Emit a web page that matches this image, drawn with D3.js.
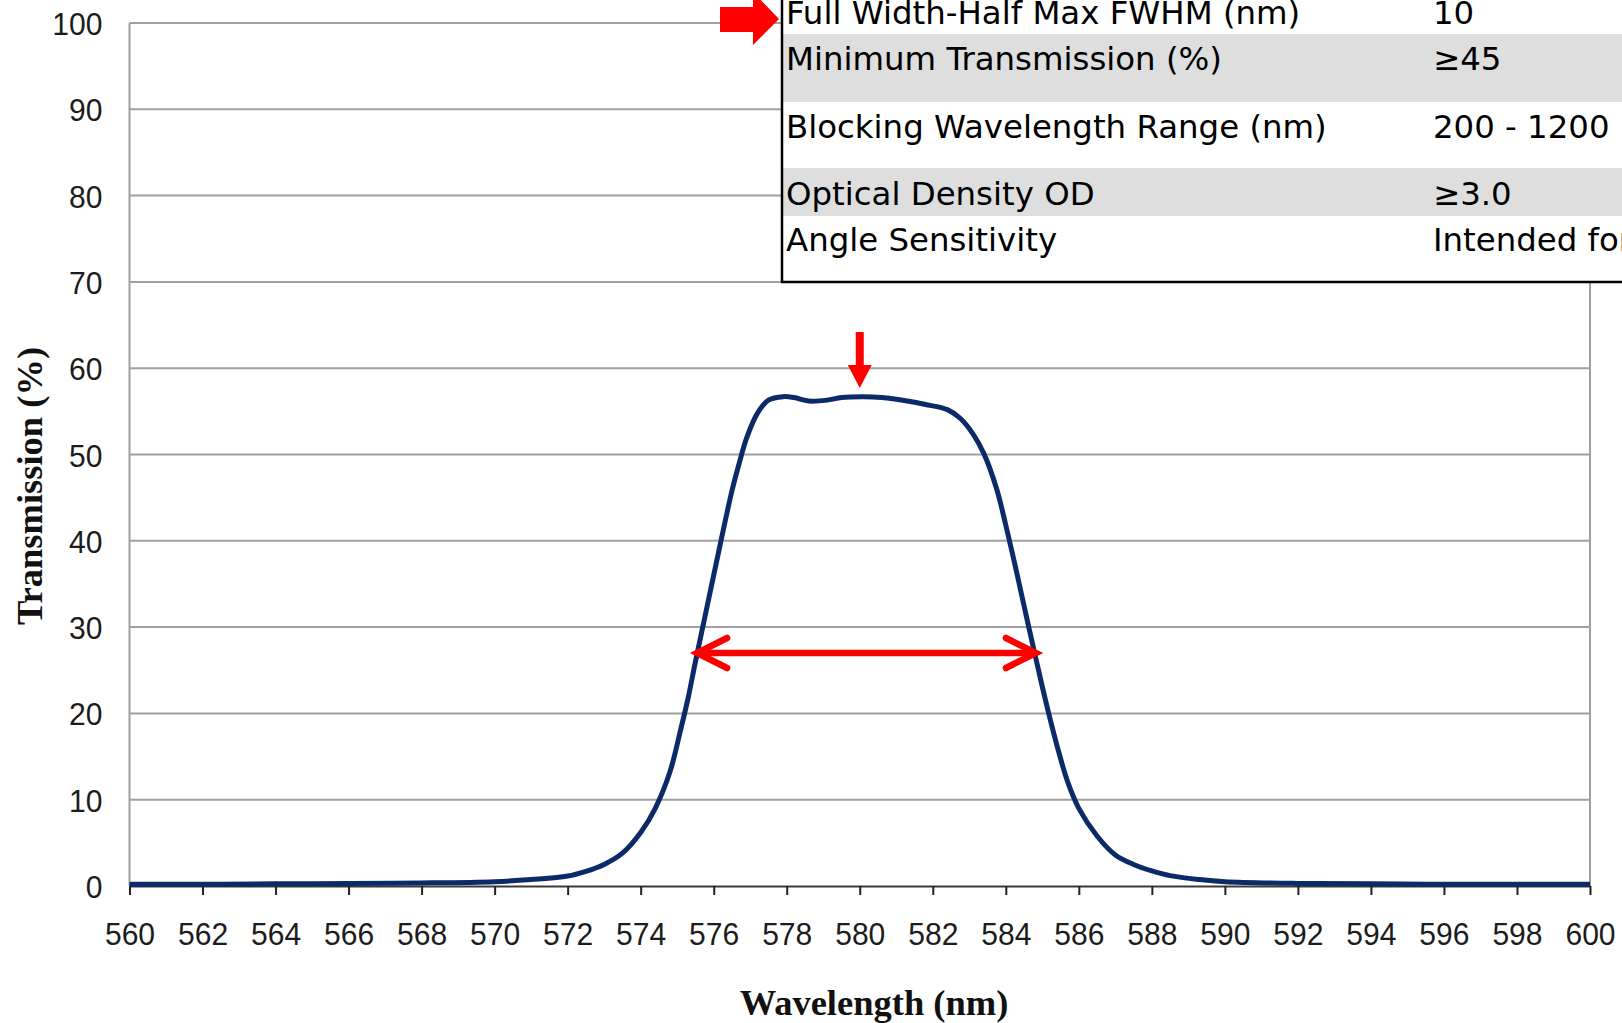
<!DOCTYPE html>
<html>
<head>
<meta charset="utf-8">
<script src="https://cdn.jsdelivr.net/npm/d3@7"></script>
<style>
  body { margin: 0; background: #fff; overflow: hidden; }
  svg { display: block; }
</style>
</head>
<body>
<svg id="chart" width="1622" height="1023"></svg>
<script>
"use strict";
var wavelengths = [560, 562, 564, 566, 568, 570, 571, 572, 572.5, 573, 573.5, 574, 574.4, 574.8, 575.1, 575.3,
    575.5, 575.8, 576.2, 576.5, 576.7, 576.9, 577.2, 577.5, 577.9, 578.2, 578.6, 579.1, 579.5, 580.1, 580.6,
    581.3, 581.8, 582.4, 582.75, 583.1, 583.4, 583.75, 584.0, 584.3, 584.55, 584.8, 585.1, 585.4, 585.7,
    586.0, 586.5, 587.0, 587.5, 588.0, 588.5, 589.3, 590, 592, 594, 596, 598, 600];
var transmission = [0.2, 0.2, 0.25, 0.3, 0.35, 0.5, 0.75, 1.15, 1.7, 2.5, 3.8, 6.2, 9.0, 13.2, 18.2, 21.8,
    26.0, 32.0, 40.0, 45.8, 49.0, 51.9, 54.8, 56.3, 56.7, 56.6, 56.2, 56.3, 56.6, 56.7, 56.6,
    56.2, 55.8, 55.2, 54.2, 52.4, 50.1, 46.0, 41.8, 36.3, 31.5, 26.8, 21.3, 16.3, 12.0,
    9.0, 5.8, 3.6, 2.5, 1.75, 1.2, 0.75, 0.5, 0.3, 0.25, 0.2, 0.2, 0.2];
var xTicks = [560, 562, 564, 566, 568, 570, 572, 574, 576, 578, 580, 582, 584, 586, 588, 590, 592, 594, 596, 598, 600];
var yTicks = [0, 10, 20, 30, 40, 50, 60, 70, 80, 90, 100];
var specLabels = ['Full Width-Half Max FWHM (nm)', 'Minimum Transmission (%)', 'Blocking Wavelength Range (nm)',
    'Optical Density OD', 'Angle Sensitivity'];
var specValues = ['10', '\u226545', '200 - 1200', '\u22653.0', 'Intended for'];
// annotations (data units)
var peakWl = 580;
var peakTip = 57.7;
var fwhmFrom = 575.49;
var fwhmTo = 584.88;
var fwhmLevel = 27;

var W = 1622, H = 1023;
var plotL = 129.5, plotR = 1590, plotT = 23, plotB = 886;
var svg = d3.select('#chart');
var x = d3.scaleLinear().domain([560, 600]).range([plotL, plotR]);
var y = d3.scaleLinear().domain([0, 100]).range([plotB, plotT]);
var grid = '#a0a0a0';
var red = '#ff0000';

// gridlines + frame
svg.append('g').selectAll('line')
    .data(yTicks.filter(function (d) { return d > 0; }))
    .enter().append('line')
    .attr('x1', plotL).attr('x2', plotR)
    .attr('y1', function (d) { return y(d); })
    .attr('y2', function (d) { return y(d); })
    .attr('stroke', grid)
    .attr('stroke-width', 2);
svg.append('line')
    .attr('x1', plotL).attr('x2', plotL)
    .attr('y1', plotT).attr('y2', plotB)
    .attr('stroke', grid).attr('stroke-width', 2);
svg.append('line')
    .attr('x1', plotR).attr('x2', plotR)
    .attr('y1', plotT).attr('y2', plotB)
    .attr('stroke', grid).attr('stroke-width', 2);

// x axis
var xAxis = svg.append('g')
    .attr('transform', 'translate(0,' + plotB + ')')
    .call(d3.axisBottom(x).tickValues(xTicks).tickSize(9).tickSizeOuter(0).tickFormat(d3.format('d')));
xAxis.select('.domain').attr('stroke', '#3a3a3a').attr('stroke-width', 2);
xAxis.selectAll('.tick line').attr('stroke', '#222').attr('stroke-width', 2);
xAxis.selectAll('.tick text')
    .attr('y', 59).attr('dy', 0)
    .attr('transform', 'scale(0.94,1)')
    .attr('fill', '#1c1c1c')
    .style('font-family', '"Liberation Sans", Arial, sans-serif')
    .style('font-size', '32px');

// y axis labels
var yAxis = svg.append('g')
    .attr('transform', 'translate(' + plotL + ',0)')
    .call(d3.axisLeft(y).tickValues(yTicks).tickSize(0).tickPadding(0));
yAxis.select('.domain').remove();
yAxis.selectAll('.tick text')
    .attr('x', -27 / 0.94).attr('dy', 0).attr('y', 11.5)
    .attr('transform', 'scale(0.94,1)')
    .attr('fill', '#1c1c1c')
    .style('font-family', '"Liberation Sans", Arial, sans-serif')
    .style('font-size', '32px');

// axis titles
svg.append('text')
    .attr('x', 874).attr('y', 1015)
    .attr('text-anchor', 'middle')
    .style('font-family', '"Liberation Serif", "Times New Roman", serif')
    .style('font-weight', 'bold')
    .style('font-size', '36.5px')
    .attr('fill', '#111')
    .text('Wavelength (nm)');
svg.append('text')
    .attr('transform', 'translate(42,486) rotate(-90)')
    .attr('text-anchor', 'middle')
    .style('font-family', '"Liberation Serif", "Times New Roman", serif')
    .style('font-weight', 'bold')
    .style('font-size', '36.5px')
    .attr('fill', '#111')
    .text('Transmission (%)');

// spectrum
var pts = wavelengths.map(function (w, i) { return [w, transmission[i]]; });
var line = d3.line()
    .x(function (d) { return x(d[0]); })
    .y(function (d) { return y(d[1]); })
    .curve(d3.curveCatmullRom.alpha(0.5));
svg.append('path')
    .attr('d', line(pts))
    .attr('fill', 'none')
    .attr('stroke', '#0c2a68')
    .attr('stroke-width', 5)
    .attr('stroke-linejoin', 'round');

// peak marker arrow
var px = x(peakWl), ptip = y(peakTip);
svg.append('path')
    .attr('d', 'M' + (px - 4) + ',' + (ptip - 56) + 'H' + (px + 4) + 'V' + (ptip - 23) + 'H' + (px + 12) +
        'L' + px + ',' + ptip + 'L' + (px - 12) + ',' + (ptip - 23) + 'H' + (px - 4) + 'Z')
    .attr('fill', red);

// fwhm double arrow
var fy = y(fwhmLevel), fx1 = x(fwhmFrom), fx2 = x(fwhmTo);
var arrows = svg.append('g')
    .attr('fill', 'none')
    .attr('stroke', red)
    .attr('stroke-width', 6.5)
    .attr('stroke-linecap', 'round')
    .attr('stroke-linejoin', 'miter');
arrows.append('line')
    .attr('x1', fx1 + 3).attr('x2', fx2 - 3)
    .attr('y1', fy).attr('y2', fy);
arrows.append('polyline')
    .attr('points', [[fx1 + 32, fy - 15], [fx1 + 2, fy], [fx1 + 32, fy + 15]].join(' '));
arrows.append('polyline')
    .attr('points', [[fx2 - 32, fy - 15], [fx2 - 2, fy], [fx2 - 32, fy + 15]].join(' '));

// spec table, cut off at the top right
var rowTops = [-20, 34, 102, 168, 216];
var rowBottoms = [34, 102, 168, 216, 282];
var baselines = [24, 70, 138, 205, 251];
var tbl = svg.append('g');
tbl.selectAll('rect')
    .data(specLabels)
    .enter().append('rect')
    .attr('x', 782).attr('width', W - 782)
    .attr('y', function (d, i) { return rowTops[i]; })
    .attr('height', function (d, i) { return rowBottoms[i] - rowTops[i]; })
    .attr('fill', function (d, i) { return i % 2 ? '#dedede' : '#fff'; });
tbl.selectAll('text.lbl')
    .data(specLabels)
    .enter().append('text')
    .attr('class', 'lbl')
    .attr('x', 786)
    .attr('y', function (d, i) { return baselines[i]; })
    .style('font-family', '"DejaVu Sans", Verdana, sans-serif')
    .style('font-size', '32.4px')
    .attr('fill', '#000')
    .text(function (d) { return d; });
tbl.selectAll('text.val')
    .data(specValues)
    .enter().append('text')
    .attr('class', 'val')
    .attr('x', 1433)
    .attr('y', function (d, i) { return baselines[i]; })
    .style('font-family', '"DejaVu Sans", Verdana, sans-serif')
    .style('font-size', '32.4px')
    .attr('fill', '#000')
    .text(function (d) { return d; });
tbl.append('line')
    .attr('x1', 782).attr('x2', 782)
    .attr('y1', 0).attr('y2', 283)
    .attr('stroke', '#000').attr('stroke-width', 2.5);
tbl.append('line')
    .attr('x1', 781).attr('x2', W)
    .attr('y1', 282).attr('y2', 282)
    .attr('stroke', '#000').attr('stroke-width', 2.5);

// block arrow pointing at the FWHM row
svg.append('path')
    .attr('d', 'M720,7H753V-8L779,19L753,45V32H720Z')
    .attr('fill', red);
</script>
</body>
</html>
